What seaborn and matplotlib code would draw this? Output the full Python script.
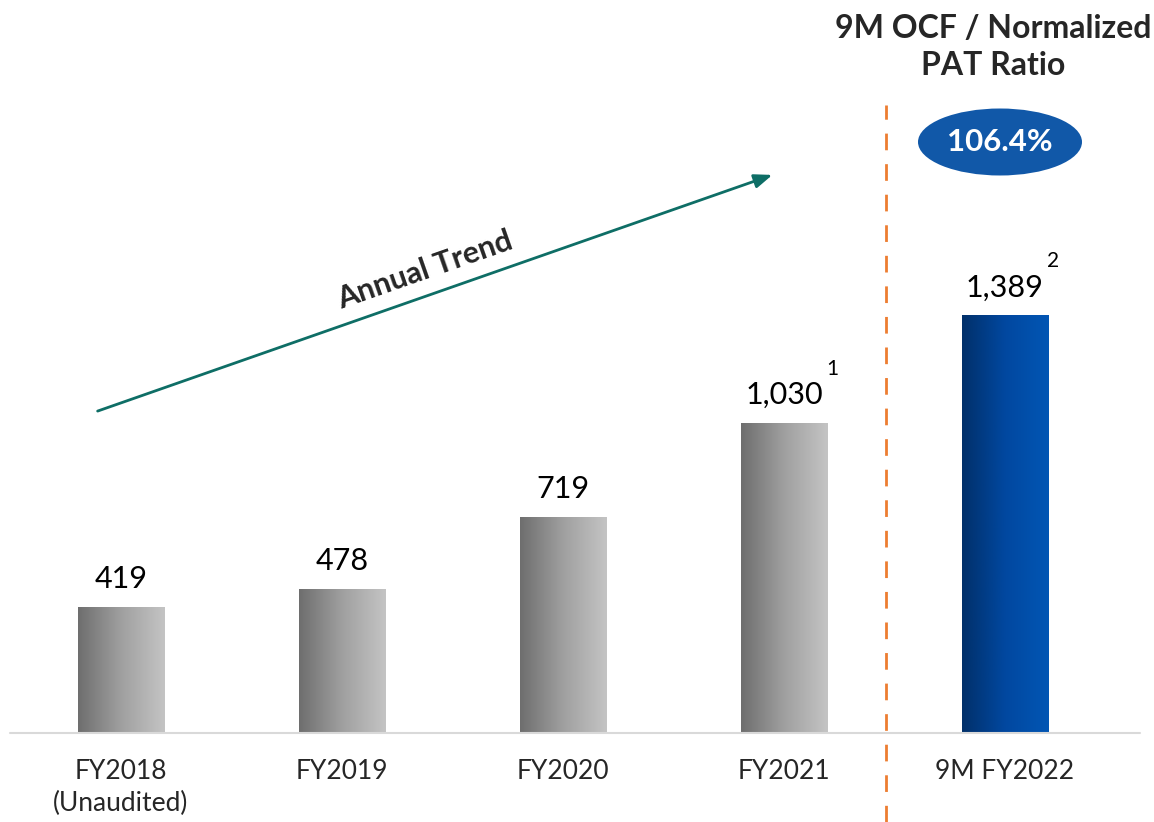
import numpy as np
import matplotlib
matplotlib.use("Agg")
import matplotlib.pyplot as plt
import seaborn as sns
import pandas as pd
from matplotlib.patches import Ellipse
from matplotlib.colors import LinearSegmentedColormap

categories = ["FY2018", "FY2019", "FY2020", "FY2021", "9M FY2022"]
sublabels = ["(Unaudited)", "", "", "", ""]
values = [419, 478, 719, 1030, 1389]
value_labels = ["419", "478", "719", "1,030", "1,389"]
superscripts = ["", "", "", "1", "2"]
ratio_label = "106.4%"
panel_title = "9M OCF / Normalized\nPAT Ratio"
trend_label = "Annual Trend"

sns.set_theme(style="white")
plt.rcParams['font.family'] = ['Lato', 'DejaVu Sans']

W, H = 1154, 822
fig = plt.figure(figsize=(W / 100, H / 100), dpi=100)
ax = fig.add_axes([0, 0, 1, 1])

df = pd.DataFrame({"cat": categories, "val": values})
sns.barplot(data=df, x="cat", y="val", ax=ax, width=0.39, color="#999999",
            saturation=1)

# geometry: map pixel to data for decorations
x0px, step = 121.0, 221.0
base_px, scale = 733.0, 126.0 / 419.0

def px(xp, yp):
    return (xp - x0px) / step, (base_px - yp) / scale

gray = LinearSegmentedColormap.from_list("g", ["#6e6e6e", "#a0a0a0", "#c4c4c4"])
blue = LinearSegmentedColormap.from_list("b", ["#01306a", "#0148a0", "#0256b4"])
grad = np.linspace(0, 1, 256).reshape(1, -1)
for i, p in enumerate(ax.patches):
    bx, by = p.get_x(), p.get_y()
    bw, bh = p.get_width(), p.get_height()
    cmap = blue if i == len(ax.patches) - 1 else gray
    im = ax.imshow(grad, cmap=cmap, aspect="auto",
                   extent=[bx, bx + bw, by, by + bh], zorder=2)
    im.set_clip_path(p)
    p.set_facecolor("none")
    p.set_edgecolor("none")
ax.set_xlim((0 - x0px) / step, (W - x0px) / step)
ax.set_ylim((base_px - H) / scale, base_px / scale)
ax.axis("off")

# baseline
xl, _ = px(10, 0)
xr, _ = px(1140, 0)
ax.plot([xl, xr], [0, 0], color="#d9d9d9", lw=1.5, zorder=3)

# value labels
off = 14 / scale
for i, (v, lab, sup) in enumerate(zip(values, value_labels, superscripts)):
    ax.text(i, v + off, lab, ha="center", va="bottom", fontsize=22, color="black")
    if sup:
        ax.text(i + 0.19, v + off + 30 / scale, sup, ha="left",
                va="bottom", fontsize=15, color="black")

# tick labels
for i, (c, s) in enumerate(zip(categories, sublabels)):
    ax.text(i, px(0, 771)[1], c, ha="center", va="center", fontsize=19)
    if s:
        ax.text(i, px(0, 803)[1], s, ha="center", va="center", fontsize=19)

# dashed separator
sx, sy_top = px(886, 105)
_, sy_bot = px(886, 822)
ax.plot([sx, sx], [sy_bot, sy_top], color="#ED7D31", lw=2,
        dashes=(6, 5), zorder=3)

# title of right panel
tx, ty = px(993, 47)
ax.text(tx, ty, panel_title, ha="center", va="center", fontsize=23,
        fontweight="bold", linespacing=1.35)

# ellipse badge
ex, ey = px(1000, 142)
ell = Ellipse((ex, ey), width=164 / step, height=67 / scale,
              facecolor="#1158A8", edgecolor="none", zorder=4)
ax.add_patch(ell)
ax.text(ex, ey, ratio_label, ha="center", va="center", fontsize=22.5,
        fontweight="bold", color="white", zorder=5)

# trend arrow
a0 = px(95, 412)
a1 = px(775, 174)
ax.annotate("", xy=a1, xytext=a0,
            arrowprops=dict(arrowstyle="-|>,head_length=0.9,head_width=0.35",
                            color="#0E6E66", lw=2))
ang = np.degrees(np.arctan2(412 - 174, 775 - 95))
lx, ly = px(425, 270)
ax.text(lx, ly, trend_label, ha="center", va="center", fontsize=22,
        fontweight="bold", rotation=ang, rotation_mode="anchor")

fig.savefig("out.png", dpi=100)
